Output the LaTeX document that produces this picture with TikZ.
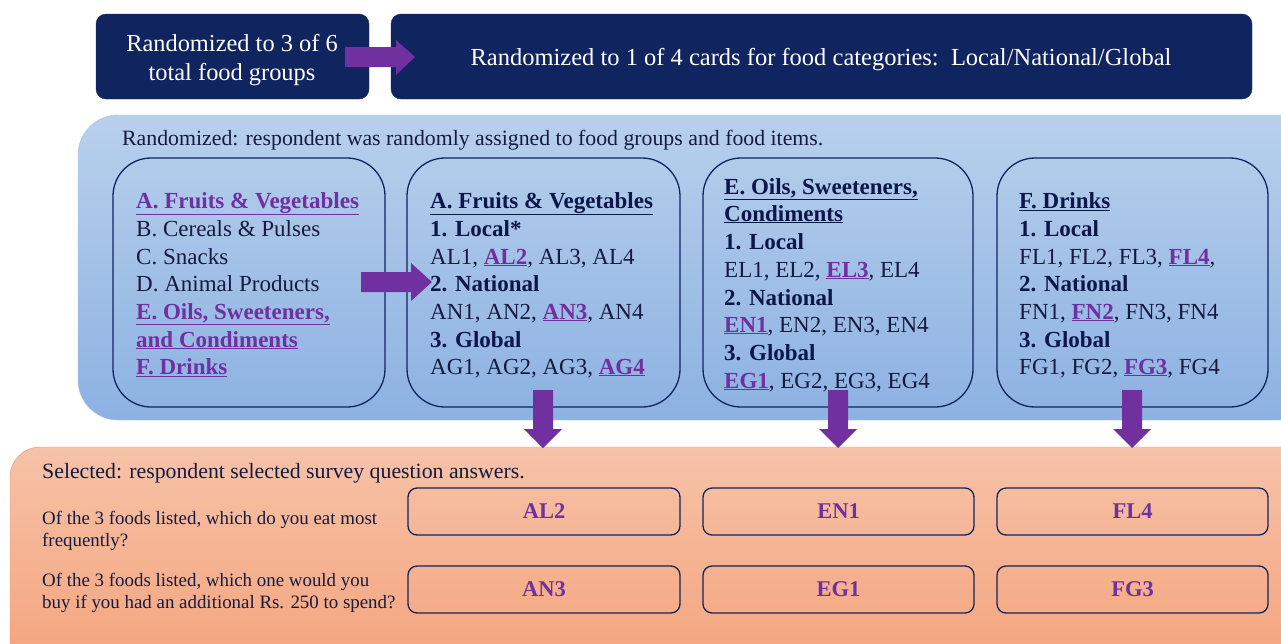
\documentclass[tikz,border=0pt]{standalone}
\usepackage{fontspec}
\setmainfont{Liberation Serif}
\definecolor{navy}{RGB}{16,36,96}
\definecolor{ink}{RGB}{22,26,62}
\definecolor{head}{RGB}{12,22,72}
\definecolor{purp}{RGB}{112,48,160}
\definecolor{bluetop}{RGB}{184,208,236}
\definecolor{bluebot}{RGB}{140,177,226}
\definecolor{blueedge}{RGB}{168,196,232}
\definecolor{ortop}{RGB}{246,194,168}
\definecolor{orbot}{RGB}{244,162,122}
\definecolor{oredge}{RGB}{238,150,100}
\newcommand{\pu}[1]{\textcolor{purp}{\textbf{\underline{#1}}}}
\newcommand{\hu}[1]{\textcolor{head}{\textbf{\underline{#1}}}}
\newcommand{\hb}[1]{\textcolor{head}{\textbf{#1}}}
\begin{document}
\begin{tikzpicture}[x=1pt,y=-1pt,
  darkbox/.style={fill=navy,draw=navy,rounded corners=10pt},
  card/.style={draw=navy,line width=1.3pt,rounded corners=38pt},
  ansbox/.style={draw=navy,line width=1.3pt,rounded corners=9pt,font=\fontsize{22.5}{24}\selectfont\bfseries,text=purp},
  line/.style={anchor=base west,inner sep=0pt,font=\fontsize{23}{26}\selectfont,text=ink},
  small/.style={anchor=base west,inner sep=0pt,font=\fontsize{21.8}{24}\selectfont,text=ink},
  qtext/.style={anchor=base west,inner sep=0pt,font=\fontsize{18.9}{21}\selectfont,text=ink},
  blockarrow/.style={fill=purp,draw=none}]
\useasboundingbox (0,0) rectangle (1281,643);
% top boxes
\fill[darkbox] (96,14) rectangle (369,99);
\node[text=white,align=center,font=\fontsize{24.4}{29}\selectfont] (t1) at (232,60) {Randomized to 3 of 6\\total food groups};
\fill[darkbox] (391,14) rectangle (1252,99);
\node[text=white,font=\fontsize{24.5}{28}\selectfont] (t2) at (821,60) {Randomized to 1 of 4 cards for food categories:\ \ Local/National/Global};
\fill[blockarrow] (345,47) -- (396,47) -- (396,40) -- (415,57) -- (396,75) -- (396,67) -- (345,67) -- cycle;
% panels
\begin{scope}
\clip (0,0) rectangle (1281,643);
\shade[top color=bluetop,bottom color=bluebot,draw=blueedge,rounded corners=40pt] (78,115) rectangle (1320,420);
\shade[top color=ortop,bottom color=orbot,draw=oredge,rounded corners=30pt] (10,447) rectangle (1320,680);
\end{scope}
\node[small] (rtitle) at (122,145) {Randomized: respondent was randomly assigned to food groups and food items.};
% cards
\draw[card] (113,158) rectangle (385,407);
\draw[card] (407,158) rectangle (680,407);
\draw[card] (703,158) rectangle (973,407);
\draw[card] (997,158) rectangle (1268,407);
% card 1
\node[line] (a1) at (136,208) {\pu{A. Fruits \& Vegetables}};
\node[line] (a2) at (136,236) {B. Cereals \& Pulses};
\node[line] (a3) at (136,264) {C. Snacks};
\node[line] (a4) at (136,291) {D. Animal Products};
\node[line] (a5) at (136,319) {\pu{E. Oils, Sweeteners,}};
\node[line] (a6) at (136,347) {\pu{and Condiments}};
\node[line] (a7) at (136,374) {\pu{F. Drinks}};
% card 2
\node[line] (b1) at (430,208) {\hu{A. Fruits \& Vegetables}};
\node[line] (b2) at (430,236) {\hb{1. Local*}};
\node[line] (b3) at (430,264) {AL1, \pu{AL2}, AL3, AL4};
\node[line] (b4) at (430,291) {\hb{2. National}};
\node[line] (b5) at (430,319) {AN1, AN2, \pu{AN3}, AN4};
\node[line] (b6) at (430,347) {\hb{3. Global}};
\node[line] (b7) at (430,374) {AG1, AG2, AG3, \pu{AG4}};
% card 3
\node[line] (c1) at (724,194) {\hu{E. Oils, Sweeteners,}};
\node[line] (c2) at (724,221) {\hu{Condiments}};
\node[line] (c3) at (724,249) {\hb{1. Local}};
\node[line] (c4) at (724,277) {EL1, EL2, \pu{EL3}, EL4};
\node[line] (c5) at (724,305) {\hb{2. National}};
\node[line] (c6) at (724,332) {\pu{EN1}, EN2, EN3, EN4};
\node[line] (c7) at (724,360) {\hb{3. Global}};
\node[line] (c8) at (724,388) {\pu{EG1}, EG2, EG3, EG4};
% card 4
\node[line] (d1) at (1019,208) {\hu{F. Drinks}};
\node[line] (d2) at (1019,236) {\hb{1. Local}};
\node[line] (d3) at (1019,264) {FL1, FL2, FL3, \pu{FL4},};
\node[line] (d4) at (1019,291) {\hb{2. National}};
\node[line] (d5) at (1019,319) {FN1, \pu{FN2}, FN3, FN4};
\node[line] (d6) at (1019,347) {\hb{3. Global}};
\node[line] (d7) at (1019,374) {FG1, FG2, \pu{FG3}, FG4};
% arrows
\fill[blockarrow] (361,272) -- (411,272) -- (411,263) -- (432,282) -- (411,301) -- (411,292) -- (361,292) -- cycle;
\foreach \cx in {543,838,1132}{
  \fill[blockarrow] (\cx-10,390) -- (\cx+10,390) -- (\cx+10,429) -- (\cx+19,429) -- (\cx,448) -- (\cx-19,429) -- (\cx-10,429) -- cycle;
}
% orange panel
\node[small] (stitle) at (42,478) {Selected: respondent selected survey question answers.};
\node[qtext] (q1a) at (42,524) {Of the 3 foods listed, which do you eat most};
\node[qtext] (q1b) at (42,546) {frequently?};
\node[qtext] (q2a) at (42,586) {Of the 3 foods listed, which one would you};
\node[qtext] (q2b) at (42,608) {buy if you had an additional Rs. 250 to spend?};
\node[ansbox,minimum width=272pt,minimum height=47pt] (r1) at (544,511.5) {AL2};
\node[ansbox,minimum width=271pt,minimum height=47pt] (r2) at (838.5,511.5) {EN1};
\node[ansbox,minimum width=271pt,minimum height=47pt] (r3) at (1132.5,511.5) {FL4};
\node[ansbox,minimum width=272pt,minimum height=47pt] (s1) at (544,589.5) {AN3};
\node[ansbox,minimum width=271pt,minimum height=47pt] (s2) at (838.5,589.5) {EG1};
\node[ansbox,minimum width=271pt,minimum height=47pt] (s3) at (1132.5,589.5) {FG3};
\end{tikzpicture}
\end{document}
